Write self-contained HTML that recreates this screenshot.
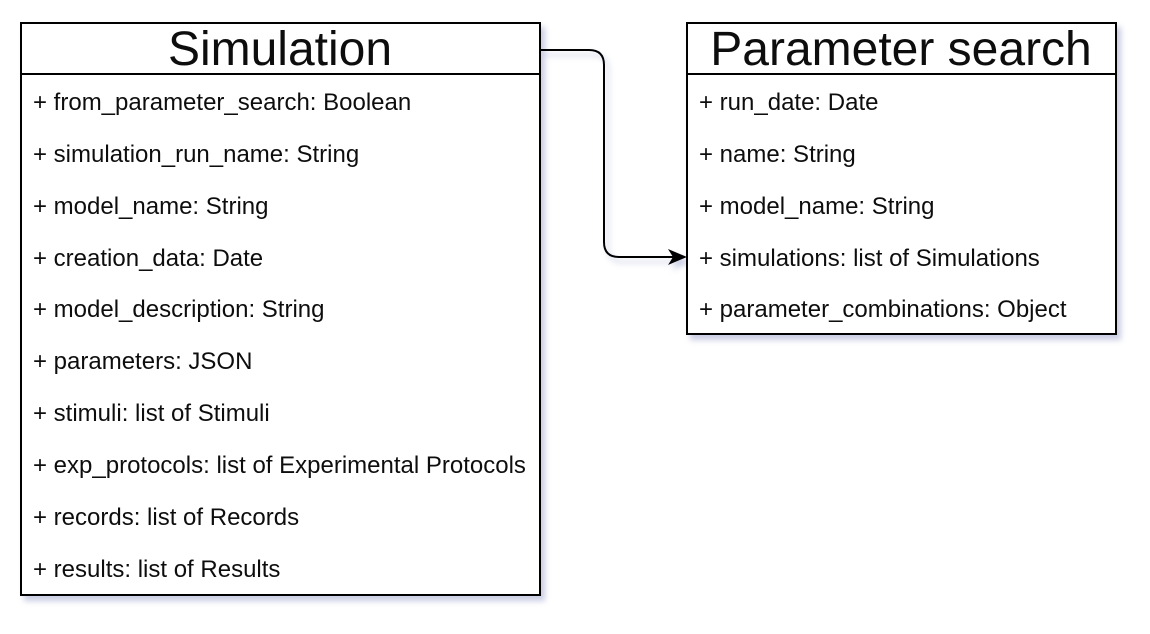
<!DOCTYPE html>
<html><head><meta charset="utf-8"><style>
html,body{margin:0;padding:0;background:#fff;width:1150px;height:634px;overflow:hidden}
svg text{font-family:"Liberation Sans",Arial,sans-serif;fill:#111}
.r{font-size:24px}
.t{font-size:48px}
</style></head><body>
<svg width="1150" height="634" viewBox="0 0 1150 634" xmlns="http://www.w3.org/2000/svg">
<defs>
<filter id="sh" x="-10%" y="-10%" width="130%" height="130%">
<feGaussianBlur in="SourceAlpha" stdDeviation="3"/>
<feOffset dx="4" dy="5" result="b"/>
<feFlood flood-color="#8890c0" flood-opacity="0.45"/>
<feComposite in2="b" operator="in"/>
<feMerge><feMergeNode/><feMergeNode in="SourceGraphic"/></feMerge>
</filter>
</defs>
<g filter="url(#sh)">
<rect x="21" y="23" width="519" height="572" fill="#fff" stroke="#000" stroke-width="2"/>
<line x1="21" y1="74" x2="540" y2="74" stroke="#000" stroke-width="2"/>
<rect x="687" y="23" width="429" height="311" fill="#fff" stroke="#000" stroke-width="2"/>
<line x1="687" y1="74" x2="1116" y2="74" stroke="#000" stroke-width="2"/>
<path d="M540 50 H589 Q604 50 604 65 V242 Q604 257 619 257 H676" fill="none" stroke="#000" stroke-width="2"/>
<path d="M687 257 L668 249 L673 257 L668 265 Z" fill="#000"/>
<text class="t" x="280" y="65" text-anchor="middle">Simulation</text>
<text class="t" x="901" y="65" text-anchor="middle">Parameter search</text>
<text class="r" x="33" y="110">+ from_parameter_search: Boolean</text>
<text class="r" x="33" y="162">+ simulation_run_name: String</text>
<text class="r" x="33" y="214">+ model_name: String</text>
<text class="r" x="33" y="266">+ creation_data: Date</text>
<text class="r" x="33" y="317">+ model_description: String</text>
<text class="r" x="33" y="369">+ parameters: JSON</text>
<text class="r" x="33" y="421">+ stimuli: list of Stimuli</text>
<text class="r" x="33" y="473">+ exp_protocols: list of Experimental Protocols</text>
<text class="r" x="33" y="525">+ records: list of Records</text>
<text class="r" x="33" y="577">+ results: list of Results</text>
<text class="r" x="699" y="110">+ run_date: Date</text>
<text class="r" x="699" y="162">+ name: String</text>
<text class="r" x="699" y="214">+ model_name: String</text>
<text class="r" x="699" y="266">+ simulations: list of Simulations</text>
<text class="r" x="699" y="317">+ parameter_combinations: Object</text>
</g>
</svg>
</body></html>
